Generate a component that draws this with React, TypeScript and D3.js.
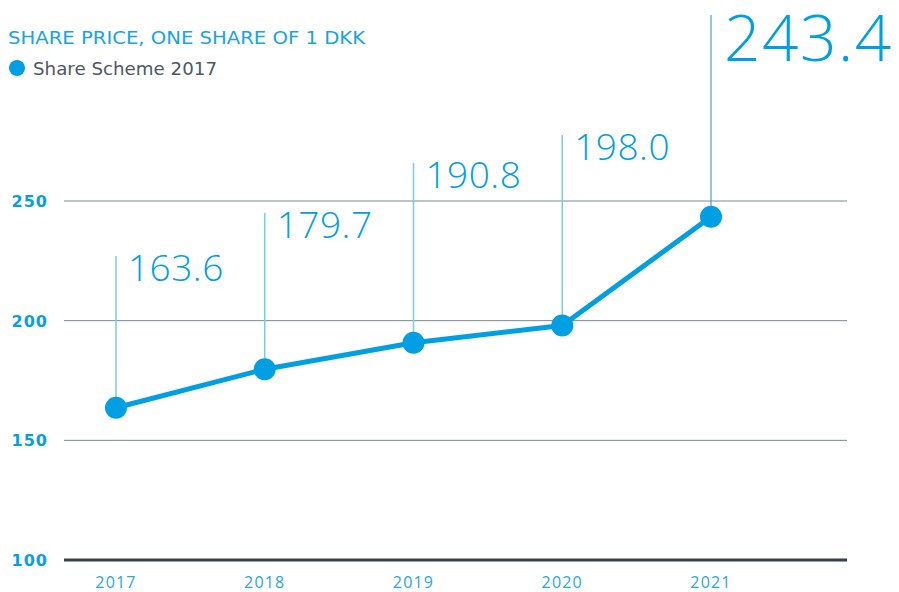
import * as d3 from "d3";
import { useEffect, useRef } from "react";

const years = ["2017", "2018", "2019", "2020", "2021"];
const prices = [163.6, 179.7, 190.8, 198.0, 243.4];
const labels = ["163.6", "179.7", "190.8", "198.0", "243.4"];
const leaderTops = [256, 213, 163, 135, 15]; // top of each leader line (px)
const yTicks = [100, 150, 200, 250];

export default function App() {
    const svgRef = useRef<SVGSVGElement>(null);
    const width = 899;
    const height = 592;
    const blue = "#009fe3";

    useEffect(() => {
        const svg = d3.select(svgRef.current)
            .attr("width", width)
            .attr("height", height);
        svg.selectAll("*").remove();

        const y = d3.scaleLinear().domain([100, 250]).range([560, 201]);
        const x = d3.scalePoint().domain(years).range([116, 711]);
        const font = "'Open Sans', 'Noto Sans', sans-serif";
        const wide = "'DejaVu Sans', sans-serif";

        // title + legend
        svg.append("text")
            .attr("x", 8).attr("y", 44)
            .attr("fill", "#1aa3e0")
            .attr("font-family", wide)
            .attr("font-size", 18)
            .attr("textLength", 357)
            .attr("lengthAdjust", "spacingAndGlyphs")
            .text("SHARE PRICE, ONE SHARE OF 1 DKK");
        svg.append("circle").attr("cx", 17).attr("cy", 68).attr("r", 8).attr("fill", blue);
        svg.append("text")
            .attr("x", 33).attr("y", 75)
            .attr("fill", "#4d5862")
            .attr("font-family", wide)
            .attr("font-size", 18)
            .attr("textLength", 184)
            .attr("lengthAdjust", "spacingAndGlyphs")
            .text("Share Scheme 2017");

        // grid lines
        const grid = svg.append("g");
        grid.selectAll("line")
            .data(yTicks)
            .join("line")
            .attr("x1", 64).attr("x2", 847)
            .attr("y1", d => y(d)).attr("y2", d => y(d))
            .attr("stroke", d => d === 100 ? "#34434d" : "#7d878d")
            .attr("stroke-width", d => d === 100 ? 3 : 1);

        grid.selectAll("text")
            .data(yTicks)
            .join("text")
            .attr("x", 48)
            .attr("y", d => y(d) + 6)
            .attr("text-anchor", "end")
            .attr("fill", "#0a9ee0")
            .attr("font-family", wide)
            .attr("font-weight", "bold")
            .attr("font-size", 16)
            .attr("letter-spacing", 1)
            .text(d => d);

        // x labels
        svg.append("g").selectAll("text")
            .data(years)
            .join("text")
            .attr("x", d => x(d)!)
            .attr("y", 588)
            .attr("text-anchor", "middle")
            .attr("fill", "#2aa5de")
            .attr("font-family", font)
            .attr("font-size", 16)
            .attr("letter-spacing", 1.2)
            .text(d => d);

        // leader lines
        svg.append("g").selectAll("line")
            .data(years)
            .join("line")
            .attr("x1", d => x(d)!).attr("x2", d => x(d)!)
            .attr("y1", (d, i) => y(prices[i]))
            .attr("y2", (d, i) => leaderTops[i])
            .attr("stroke", (d, i) => i === 4 ? "#1b8fd2" : "#7ccbef")
            .attr("stroke-width", (d, i) => i === 4 ? 1 : 1.5);

        // value labels
        svg.append("g").selectAll("text")
            .data(years)
            .join("text")
            .attr("x", d => x(d)! + (d === "2021" ? 13 : 12))
            .attr("y", (d, i) => i === 4 ? 61 : leaderTops[i] + 25)
            .attr("fill", blue)
            .attr("font-family", font)
            .attr("font-weight", 300)
            .attr("font-size", (d, i) => i === 4 ? 64 : 37)
            .attr("letter-spacing", (d, i) => i === 4 ? 1.5 : 0.5)
            .text((d, i) => labels[i]);

        // line
        const line = d3.line<number>()
            .x((d, i) => x(years[i])!)
            .y(d => y(d));
        svg.append("path")
            .attr("d", line(prices))
            .attr("fill", "none")
            .attr("stroke", blue)
            .attr("stroke-width", 5)
            .attr("stroke-linejoin", "round");

        svg.append("g").selectAll("circle")
            .data(prices)
            .join("circle")
            .attr("cx", (d, i) => x(years[i])!)
            .attr("cy", d => y(d))
            .attr("r", 11)
            .attr("fill", blue);
    }, []);

    return <svg ref={svgRef} style={{ position: "absolute", left: 0, top: 0 }} />;
}
